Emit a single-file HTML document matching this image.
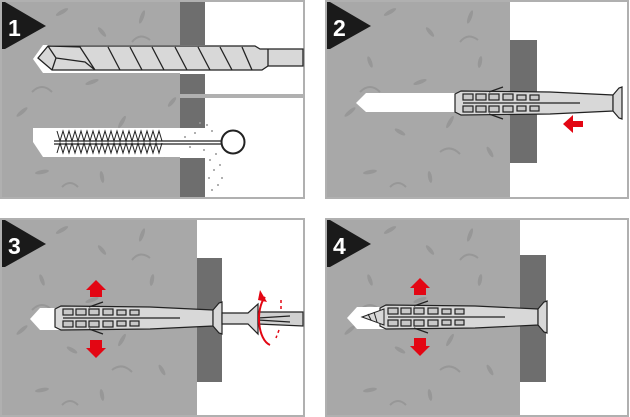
<!DOCTYPE html>
<html><head><meta charset="utf-8"><style>
html,body{margin:0;padding:0;background:#fff;}
svg{display:block;}
text{font-family:"Liberation Sans",sans-serif;font-weight:bold;}
</style></head><body>
<svg width="630" height="417" viewBox="0 0 630 417" xmlns="http://www.w3.org/2000/svg">
<defs>
<g id="speck" fill="#979797">
<ellipse cx="20" cy="20" rx="2" ry="6" transform="rotate(30 20 20)"/>
<ellipse cx="60" cy="10" rx="2" ry="7" transform="rotate(60 60 10)"/>
<ellipse cx="100" cy="30" rx="2" ry="6" transform="rotate(-40 100 30)"/>
<ellipse cx="140" cy="15" rx="2" ry="7" transform="rotate(20 140 15)"/>
<ellipse cx="40" cy="60" rx="2" ry="6" transform="rotate(-20 40 60)"/>
<ellipse cx="90" cy="80" rx="2" ry="7" transform="rotate(70 90 80)"/>
<ellipse cx="150" cy="60" rx="2" ry="6" transform="rotate(10 150 60)"/>
<ellipse cx="20" cy="110" rx="2" ry="7" transform="rotate(50 20 110)"/>
<ellipse cx="70" cy="130" rx="2" ry="6" transform="rotate(-60 70 130)"/>
<ellipse cx="120" cy="120" rx="2" ry="7" transform="rotate(30 120 120)"/>
<ellipse cx="160" cy="150" rx="2" ry="6" transform="rotate(-30 160 150)"/>
<ellipse cx="40" cy="170" rx="2" ry="7" transform="rotate(80 40 170)"/>
<ellipse cx="100" cy="175" rx="2" ry="6" transform="rotate(-10 100 175)"/>
<ellipse cx="170" cy="100" rx="2" ry="6" transform="rotate(40 170 100)"/>
<path d="M30 90 q10 -10 20 0 M110 150 q10 -8 20 2 M130 40 q8 -10 18 -2 M60 185 q8 -8 16 0" stroke="#979797" stroke-width="2" fill="none"/>
</g>
<g id="dowel" stroke="#222" stroke-width="1.2">
<path d="M0,-9 L6,-12 L95,-11 L158,-8 L158,8 L95,11 L6,12 L0,9 Z" fill="#d8d8d8"/>
<path d="M158,-8 L164,-15 L167,-16 L167,16 L164,15 L158,8 Z" fill="#d8d8d8"/>
<line x1="8" y1="0" x2="125" y2="0"/>
<g fill="#c8c8c8">
<rect x="8" y="-9" width="10" height="6"/><rect x="21" y="-9" width="10" height="6"/><rect x="34" y="-9" width="10" height="6"/><rect x="48" y="-9" width="10" height="6"/><rect x="62" y="-8" width="9" height="5"/><rect x="75" y="-8" width="9" height="5"/>
<rect x="8" y="3" width="10" height="6"/><rect x="21" y="3" width="10" height="6"/><rect x="34" y="3" width="10" height="6"/><rect x="48" y="3" width="10" height="6"/><rect x="62" y="3" width="9" height="5"/><rect x="75" y="3" width="9" height="5"/>
</g>
<path d="M34,-11 L48,-16 M34,11 L48,16" fill="none"/>
</g>
<g id="tri"><path d="M0 0 H3 L44 24 L3 47 H0 Z" fill="#1a1a1a"/></g>
</defs>

<!-- Panel 1 -->
<rect x="1" y="1" width="303" height="197" fill="#fff" stroke="#b0b0b0" stroke-width="2"/>
<rect x="2" y="2" width="178" height="195" fill="#a8a8a8"/>
<use href="#speck" x="2" y="2"/>
<rect x="180" y="2" width="25" height="43" fill="#6e6e6e"/>
<rect x="180" y="74" width="25" height="20" fill="#6e6e6e"/>
<rect x="180" y="98" width="25" height="30" fill="#6e6e6e"/>
<rect x="180" y="158" width="25" height="39" fill="#6e6e6e"/>
<rect x="180" y="94" width="123" height="4" fill="#b0b0b0"/>
<path d="M33 59 L43 45 H303 V73 H43 Z" fill="#fff"/>
<path d="M33 128 L43 128 H180 V157 H43 L33 142 Z" fill="#fff"/>
<g stroke="#222" stroke-width="1.3" fill="#d8d8d8">
<path d="M38 58 L48 46 H255 L260 49 H303 V66 H268 L262 70 H80 L52 70 Z"/>
<path d="M48 46 L56 58 L52 70 M56 58 L85 62 L95 70 M48 46 L80 47 L95 70" fill="none"/>
<path d="M108 47 L120 70 M130 47 L142 70 M152 47 L164 70 M175 47 L187 70 M198 47 L210 70 M220 47 L232 70 M242 47 L252 70 M268 49 V66" fill="none"/>
</g>
<path d="M57 131 l3 10 l3 -10 l3 10 l3 -10 l3 10 l3 -10 l3 10 l3 -10 l3 10 l3 -10 l3 10 l3 -10 l3 10 l3 -10 l3 10 l3 -10 l3 10 l3 -10 l3 10 l3 -10 l3 10 l3 -10 l3 10 l3 -10 l3 10 l3 -10 l3 10 l3 -10 l3 10 l3 -10 l3 10 l3 -10 l3 10 l3 -10 l3 10 M57 153 l3 -10 l3 10 l3 -10 l3 10 l3 -10 l3 10 l3 -10 l3 10 l3 -10 l3 10 l3 -10 l3 10 l3 -10 l3 10 l3 -10 l3 10 l3 -10 l3 10 l3 -10 l3 10 l3 -10 l3 10 l3 -10 l3 10 l3 -10 l3 10 l3 -10 l3 10 l3 -10 l3 10 l3 -10 l3 10 l3 -10 l3 10 l3 -10" stroke="#222" stroke-width="1" fill="none"/>
<path d="M54 141 H221 M54 144 H221" stroke="#222" stroke-width="1.2"/>
<circle cx="233" cy="142" r="11.5" fill="none" stroke="#222" stroke-width="2"/>
<g fill="#999"><circle cx="185" cy="137" r="1"/><circle cx="195" cy="133" r="1"/><circle cx="207" cy="125" r="1"/><circle cx="212" cy="131" r="1"/><circle cx="204" cy="150" r="1"/><circle cx="210" cy="160" r="1"/><circle cx="214" cy="170" r="1"/><circle cx="209" cy="178" r="1"/><circle cx="218" cy="185" r="1"/><circle cx="212" cy="190" r="1"/><circle cx="220" cy="165" r="1"/><circle cx="190" cy="147" r="1"/><circle cx="200" cy="123" r="1"/><circle cx="222" cy="178" r="1"/><circle cx="216" cy="154" r="1"/></g>
<use href="#tri" x="2" y="2"/>
<text x="8" y="36" font-size="23" fill="#fff">1</text>

<!-- Panel 2 -->
<rect x="326" y="1" width="302" height="197" fill="#fff" stroke="#b0b0b0" stroke-width="2"/>
<rect x="327" y="2" width="183" height="195" fill="#a8a8a8"/>
<use href="#speck" x="330" y="2"/>
<rect x="510" y="40" width="27" height="123" fill="#6e6e6e"/>
<path d="M356 103 L366 93 H537 V112 H366 Z" fill="#fff"/>
<use href="#dowel" x="455" y="103"/>
<path d="M583 115 V121 H573 V115 L563 124 L573 133 V127 H583 Z" fill="#e30613"/>
<use href="#tri" x="327" y="2"/>
<text x="333" y="36" font-size="23" fill="#fff">2</text>

<!-- Panel 3 -->
<rect x="1" y="219" width="303" height="197" fill="#fff" stroke="#b0b0b0" stroke-width="2"/>
<rect x="2" y="220" width="195" height="195" fill="#a8a8a8"/>
<use href="#speck" x="2" y="220"/>
<rect x="197" y="258" width="25" height="124" fill="#6e6e6e"/>
<path d="M30 319 L40 308 H60 V330 H40 Z" fill="#fff"/>
<use href="#dowel" x="55" y="318"/>
<g stroke="#222" stroke-width="1.2" fill="#d8d8d8">
<path d="M222 313 H248 L258 304 V334 L248 324 H222 Z"/>
<path d="M258 312 L303 312 V326 L258 324 Z" fill="#d0d0d0"/>
<path d="M258 318 L290 316 M258 320 L290 322" fill="none"/>
</g>
<path d="M265 297 C255 310 258 340 270 345" stroke="#e30613" stroke-width="2" fill="none"/>
<path d="M260 290 L267 302 L258 300 Z" fill="#e30613"/>
<path d="M281 300 V310 M279 330 L276 338" stroke="#e30613" stroke-width="1.5" stroke-dasharray="3 3"/>
<path d="M90 297 V290 H86 L96 280 L106 290 H102 V297 Z" fill="#e30613"/>
<path d="M90 340 V348 H86 L96 358 L106 348 H102 V340 Z" fill="#e30613"/>
<use href="#tri" x="2" y="220"/>
<text x="8" y="254" font-size="23" fill="#fff">3</text>

<!-- Panel 4 -->
<rect x="326" y="219" width="302" height="197" fill="#fff" stroke="#b0b0b0" stroke-width="2"/>
<rect x="327" y="220" width="193" height="195" fill="#a8a8a8"/>
<use href="#speck" x="330" y="220"/>
<rect x="520" y="255" width="26" height="127" fill="#6e6e6e"/>
<path d="M347 318 L357 307 H385 V329 H357 Z" fill="#fff"/>
<use href="#dowel" x="380" y="317"/>
<path d="M362 317 L384 309 V325 Z M368 314 L371 320 M374 312 L377 322" fill="#d8d8d8" stroke="#222" stroke-width="1"/>
<path d="M414 295 V288 H410 L420 278 L430 288 H426 V295 Z" fill="#e30613"/>
<path d="M414 338 V346 H410 L420 356 L430 346 H426 V338 Z" fill="#e30613"/>
<use href="#tri" x="327" y="220"/>
<text x="333" y="254" font-size="23" fill="#fff">4</text>
</svg>
</body></html>
